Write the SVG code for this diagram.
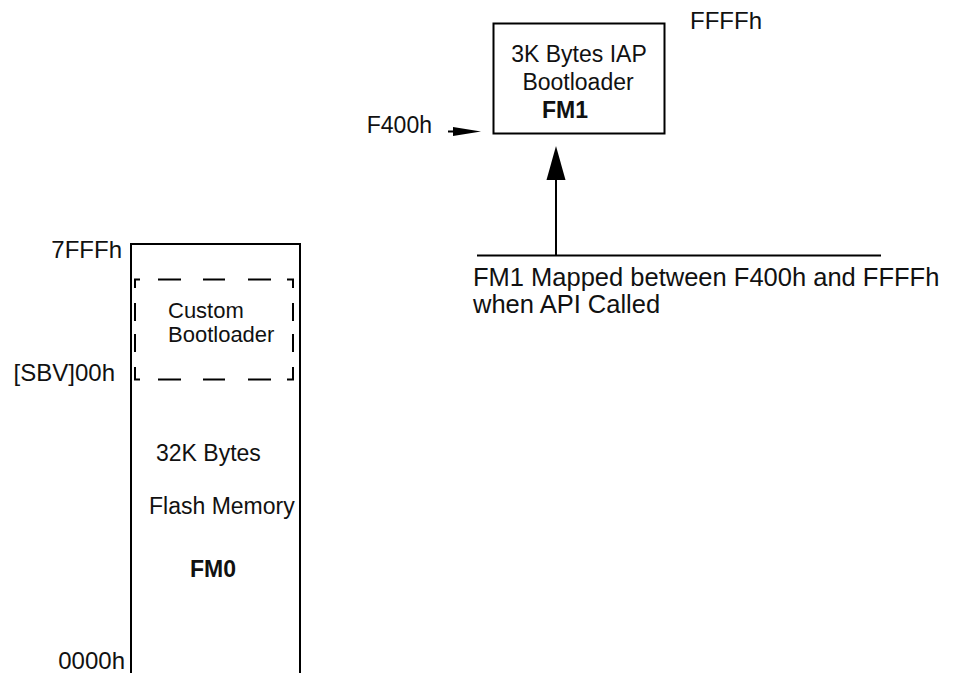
<svg xmlns="http://www.w3.org/2000/svg" width="976" height="673" viewBox="0 0 976 673">
<style>
text{font-family:"Liberation Sans",Arial,sans-serif;fill:#111;font-size:23px}
.b{font-weight:bold}
.ln{stroke:#000;stroke-width:2;fill:none}
.ah{fill:#000;stroke:none}
</style>
<rect width="976" height="673" fill="#fff"/>
<g id="fm1">
<rect class="ln" x="493.5" y="23.5" width="171" height="110"/>
<text x="579" y="62" text-anchor="middle">3K Bytes IAP</text>
<text x="578" y="90" text-anchor="middle">Bootloader</text>
<text class="b" x="542" y="118">FM1</text>
</g>
<g id="labels-fm1">
<text x="690" y="29" style="font-size:24px">FFFFh</text>
<text x="432" y="133" text-anchor="end">F400h</text>
</g>
<g id="fm0">
<path class="ln" d="M131,673 V244 H300 V673"/>
<path class="ln" d="M135,288 V279.5 H140 M158,279.5 H181 M203,279.5 H225 M248,279.5 H271 M287,279.5 H293 V288 M293,303 V321 M293,334 V352 M293,367 V379.5 H287 M271,379.5 H248 M225,379.5 H203 M181,379.5 H158 M140,379.5 H135 V367 M135,352 V334 M135,321 V303"/>
<text x="168" y="318" style="font-size:22px">Custom</text>
<text x="168" y="342" style="font-size:22px">Bootloader</text>
<text x="156" y="461">32K Bytes</text>
<text x="149" y="514">Flash Memory</text>
<text class="b" x="190" y="577">FM0</text>
</g>
<g id="labels-fm0">
<text x="122" y="258" text-anchor="end" style="font-size:24px">7FFFh</text>
<text x="115" y="381" text-anchor="end" style="font-size:24px">[SBV]00h</text>
<text x="125" y="669" text-anchor="end" style="font-size:24px">0000h</text>
</g>
<g id="note">
<text x="473" y="286" style="font-size:25.5px">FM1 Mapped between F400h and FFFFh</text>
<text x="473" y="313" style="font-size:25.5px">when API Called</text>
</g>
<g id="connectors">
<line class="ln" x1="448" y1="131.5" x2="462" y2="131.5"/>
<polygon class="ah" points="453,127 481,131.5 453,136"/>
<line class="ln" x1="477" y1="255.5" x2="881" y2="255.5"/>
<line class="ln" x1="556" y1="175" x2="556" y2="256"/>
<polygon class="ah" points="556,146 565.5,180 546.5,180"/>
</g>
</svg>
